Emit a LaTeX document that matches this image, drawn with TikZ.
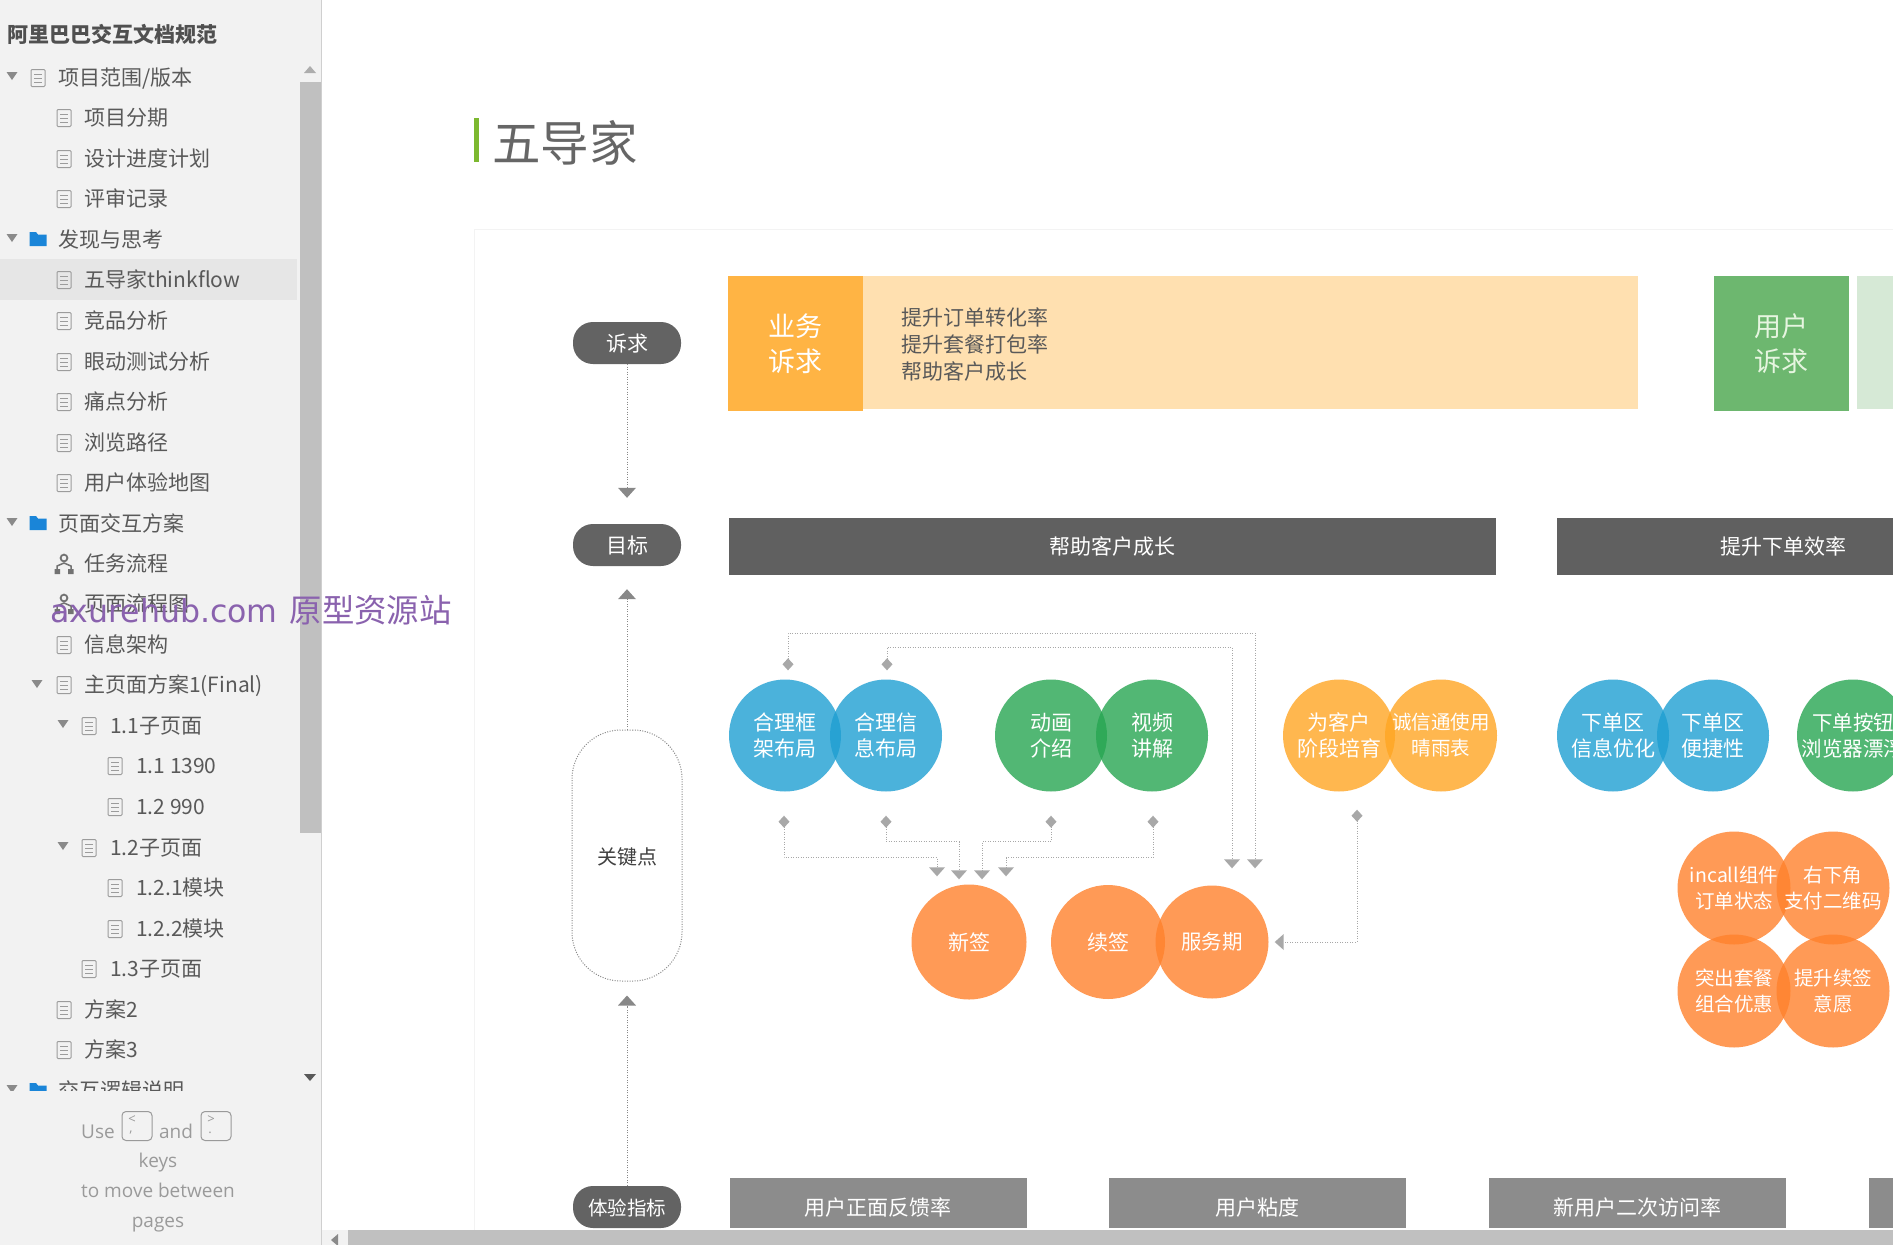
\documentclass[tikz,border=0pt]{standalone}
\usepackage{fontspec}
\setmainfont{Noto Sans CJK SC}
\newfontfamily\latinui{Open Sans}
\newfontfamily\wmfont{DejaVu Sans}
\usetikzlibrary{arrows.meta,calc}
\definecolor{sidebg}{HTML}{F2F2F2}
\definecolor{sideline}{HTML}{CFCFCF}
\definecolor{thumb}{HTML}{C0C0C0}
\definecolor{rowhl}{HTML}{E6E6E6}
\definecolor{treetext}{HTML}{595959}
\definecolor{iconline}{HTML}{9C9C9C}
\definecolor{folderblue}{HTML}{1A85D8}
\definecolor{treetri}{HTML}{8A8A8A}
\definecolor{helptext}{HTML}{9A9A9A}
\definecolor{wmpurple}{HTML}{8A62AE}
\definecolor{titlegreen}{HTML}{7CB82F}
\definecolor{titlegray}{HTML}{666666}
\definecolor{panelline}{HTML}{F3F3F3}
\definecolor{pillgray}{HTML}{636363}
\definecolor{bargray}{HTML}{606060}
\definecolor{midgray}{HTML}{8C8C8C}
\definecolor{biz}{HTML}{FFB444}
\definecolor{bizlight}{HTML}{FFE0B0}
\definecolor{usr}{HTML}{6DB76F}
\definecolor{usrlight}{HTML}{D6E9D6}
\definecolor{usrtext}{HTML}{E6F5E0}
\definecolor{linkgray}{HTML}{A8A8A8}
\definecolor{arrowgray}{HTML}{888888}
\definecolor{cblue}{HTML}{1F9FD2}
\definecolor{cgreen}{HTML}{27A652}
\definecolor{cyellow}{HTML}{FFA623}
\definecolor{corange}{HTML}{FF812C}
\tikzset{
  treeitem/.style={anchor=west,inner sep=0pt,text=treetext,font=\fontsize{21}{21}\selectfont,text height=20pt,text depth=3pt},
  doc/.pic={
    \draw[iconline,line width=1pt,rounded corners=1pt] (-7,-7.5) rectangle (7,9.5);
    \draw[iconline,line width=1pt] (-4,-3) -- (4,-3) (-4,1) -- (4,1) (-4,5) -- (4,5);
  },
  folder/.pic={
    \fill[folderblue] (-8.5,-7) -- (-2,-7) -- (0,-4.5) -- (8.5,-4.5) -- (8.5,7) -- (-8.5,7) -- cycle;
  },
  flowicon/.pic={
    \draw[treetext!85,line width=1.8pt] (0,-5) circle (3.4);
    \draw[treetext!85,line width=1.5pt] (-7,6) -- (-7,3) -- (0,0) -- (7,3) -- (7,6);
    \fill[treetext!85] (-9.5,6) rectangle (-4,11) (4,6) rectangle (9.5,11);
  },
  opentri/.pic={\fill[treetri] (-5.5,-4) -- (5.5,-4) -- (0,4) -- cycle;},
  helptxt/.style={inner sep=0pt,text=helptext,font=\latinui\fontsize{19}{19}\selectfont,text height=14pt,text depth=4pt},
  keycap/.style={draw=helptext,line width=1pt,rounded corners=4pt,minimum width=30pt,minimum height=29pt,inner sep=0pt},
  keyglyph/.style={inner sep=0pt,text=helptext,font=\latinui\fontsize{13}{13}\selectfont},
  pill/.style={fill=pillgray,rounded corners=20pt,minimum width=108pt,minimum height=42pt,inner sep=0pt,text=white,font=\fontsize{21}{21}\selectfont,text height=18pt,text depth=2pt},
  keypill/.style={draw=arrowgray,line width=1pt,dash pattern=on 1pt off 1.5pt,rounded corners=49pt,minimum width=110pt,minimum height=251pt,inner sep=0pt,text=black!75,font=\fontsize{20}{20}\selectfont,text height=19pt,text depth=1pt},
  rowbar/.style={fill=bargray,inner sep=0pt,text=white,font=\fontsize{21}{21}\selectfont},
  kpibar/.style={fill=midgray,inner sep=0pt,minimum width=297pt,minimum height=50pt,text=white,font=\fontsize{21}{21}\selectfont,text height=26pt,text depth=2pt},
  headbox/.style={inner sep=0pt,minimum width=135pt,minimum height=135pt,align=center,font=\fontsize{27}{35}\selectfont},
  bubble/.style={circle,inner sep=0pt,minimum size=112pt,fill opacity=.8,text opacity=1,text=white,align=center,font=\fontsize{21}{26}\selectfont},
  bubblesmall/.style={bubble,font=\fontsize{19.5}{25.5}\selectfont},
  blueb/.style={bubble,fill=cblue},
  greenb/.style={bubble,fill=cgreen},
  yellowb/.style={bubble,fill=cyellow},
  orangeb/.style={bubble,fill=corange},
  quadb/.style={bubblesmall,fill=corange,minimum size=113pt},
  link/.style={draw=linkgray,line width=1pt,dash pattern=on 1pt off 1.5pt},
  axisarrow/.style={draw=arrowgray,line width=1pt,dash pattern=on 1pt off 1.5pt,-{Triangle[width=18pt,length=10pt,fill=arrowgray,line width=0pt]}},
  dd/.style={link,{Diamond[width=11pt,length=12pt,fill=linkgray,line width=0pt]}-{Triangle[width=16pt,length=9pt,fill=linkgray,line width=0pt]}},
}
\begin{document}
\begin{tikzpicture}[x=1pt,y=-1pt]
\useasboundingbox (0,0) rectangle (1893,1245);
\clip (0,0) rectangle (1893,1245);
\fill[white] (0,0) rectangle (1893,1245);
% ---- side bar
\fill[sidebg] (0,0) rectangle (321,1245);
\draw[sideline,line width=1pt] (321,0) -- (321,1245);
\fill[thumb] (300,82) rectangle (321,833);
\fill[treetri!70] (304,73) -- (316,73) -- (310,66) -- cycle;
\fill[treetext] (304,1074) -- (316,1074) -- (310,1081) -- cycle;
\fill[rowhl] (0,259) rectangle (297,300);
\node[anchor=west,inner sep=0pt,text=treetext!90!black,font=\bfseries\fontsize{21}{21}\selectfont] (sidetitle) at (7,34) {阿里巴巴交互文档规范};
\begin{scope}
\clip (0,40) rectangle (298,1090);
\pic at (12,76) {opentri}; \pic at (38,77) {doc};
\node[treeitem] (t01) at (58,77) {项目范围/版本};
\pic at (64,117) {doc}; \node[treeitem] (t02) at (84,117) {项目分期};
\pic at (64,158) {doc}; \node[treeitem] (t03) at (84,158) {设计进度计划};
\pic at (64,198) {doc}; \node[treeitem] (t04) at (84,198) {评审记录};
\pic at (12,238) {opentri}; \pic at (38,239) {folder};
\node[treeitem] (t05) at (58,239) {发现与思考};
\pic at (64,279) {doc}; \node[treeitem] (t06) at (84,279) {五导家thinkflow};
\pic at (64,320) {doc}; \node[treeitem] (t07) at (84,320) {竞品分析};
\pic at (64,361) {doc}; \node[treeitem] (t08) at (84,361) {眼动测试分析};
\pic at (64,401) {doc}; \node[treeitem] (t09) at (84,401) {痛点分析};
\pic at (64,442) {doc}; \node[treeitem] (t10) at (84,442) {浏览路径};
\pic at (64,482) {doc}; \node[treeitem] (t11) at (84,482) {用户体验地图};
\pic at (12,522) {opentri}; \pic at (38,523) {folder};
\node[treeitem] (t12) at (58,523) {页面交互方案};
\pic at (64,563) {flowicon}; \node[treeitem] (t13) at (84,563) {任务流程};
\pic at (64,603) {flowicon}; \node[treeitem] (t14) at (84,603) {页面流程图};
\pic at (64,644) {doc}; \node[treeitem] (t15) at (84,644) {信息架构};
\pic at (37,684) {opentri}; \pic at (64,684) {doc};
\node[treeitem] (t16) at (84,684) {主页面方案1(Final)};
\pic at (63,724) {opentri}; \pic at (89,725) {doc};
\node[treeitem] (t17) at (110,725) {1.1子页面};
\pic at (115,765) {doc}; \node[treeitem] (t18) at (136,765) {1.1 1390};
\pic at (115,806) {doc}; \node[treeitem] (t19) at (136,806) {1.2 990};
\pic at (63,846) {opentri}; \pic at (89,847) {doc};
\node[treeitem] (t20) at (110,847) {1.2子页面};
\pic at (115,887) {doc}; \node[treeitem] (t21) at (136,887) {1.2.1模块};
\pic at (115,928) {doc}; \node[treeitem] (t22) at (136,928) {1.2.2模块};
\pic at (89,968) {doc}; \node[treeitem] (t23) at (110,968) {1.3子页面};
\pic at (64,1009) {doc}; \node[treeitem] (t24) at (84,1009) {方案2};
\pic at (64,1049) {doc}; \node[treeitem] (t25) at (84,1049) {方案3};
\pic at (12,1089) {opentri}; \pic at (38,1090) {folder};
\node[treeitem] (t26) at (58,1090) {交互逻辑说明};
\end{scope}
% help
\node[helptxt] (huse) at (98,1133) {Use};
\node[keycap] (k1) at (137,1126) {};
\node[keyglyph] (k1a) at (132,1120) {<};
\node[keyglyph] (k1b) at (131,1133) {,};
\node[helptxt] (hand) at (176,1133) {and};
\node[keycap] (k2) at (216,1126) {};
\node[keyglyph] (k2a) at (211,1120) {>};
\node[keyglyph] (k2b) at (210,1133) {.};
\node[helptxt] (hkeys) at (158,1162) {keys};
\node[helptxt] (hmove) at (158,1192) {to move between};
\node[helptxt] (hpages) at (158,1222) {pages};
% ---- main
\fill[titlegreen] (474,118) rectangle (479,162);
\node[anchor=west,inner sep=0pt,text=titlegray,font=\fontsize{48.5}{48.5}\selectfont] (title) at (492,143) {五导家};
\draw[panelline,line width=1pt] (1893,229) -- (474,229) -- (474,1230);
% row 1
\node[pill] (p1) at (627,343) {诉求};
\fill[bizlight] (863,276) rectangle (1638,409);
\node[headbox,fill=biz,text=white] (bizhead) at (795.5,343.5) {业务\\诉求};
\node[anchor=west,inner sep=0pt,align=left,text=black!65,font=\fontsize{21}{27}\selectfont] (biztext) at (901,345) {提升订单转化率\\提升套餐打包率\\帮助客户成长};
\node[headbox,fill=usr,text=usrtext] (usrhead) at (1781.5,343.5) {用户\\诉求};
\fill[usrlight] (1857,276) rectangle (1893,409);
% row 2
\node[pill] (p2) at (627,545) {目标};
\node[rowbar,minimum width=767pt,minimum height=57pt] (goal1) at (1112.5,546) {帮助客户成长};
\node[rowbar,minimum width=452pt,minimum height=57pt] (goal2) at (1783,546) {提升下单效率};
% key pill
\node[keypill] (p3) at (627,855.5) {关键点};
% kpi
\node[kpibar] (kpi1) at (878,1203) {用户正面反馈率};
\node[kpibar] (kpi2) at (1257.5,1203) {用户粘度};
\node[kpibar] (kpi3) at (1637,1203) {新用户二次访问率};
\node[kpibar] (kpi4) at (2017,1203) {};
\node[pill,font=\fontsize{19.5}{20}\selectfont] (p4) at (627,1207) {体验指标};
% bubbles
\node[blueb] (a1) at (785,735.5) {合理框\\架布局};
\node[blueb] (a2) at (886,735.5) {合理信\\息布局};
\node[greenb] (b1) at (1051,735.5) {动画\\介绍};
\node[greenb] (b2) at (1152,735.5) {视频\\讲解};
\node[yellowb] (c1) at (1339,735.5) {为客户\\阶段培育};
\node[yellowb,font=\fontsize{19.5}{26}\selectfont] (c2) at (1441,735.5) {诚信通使用\\晴雨表};
\node[orangeb,minimum size=115pt] (xq) at (969,942) {新签};
\node[orangeb,minimum size=114pt] (xu) at (1108,942) {续签};
\node[orangeb,minimum size=113pt,font=\fontsize{20.5}{26}\selectfont] (fw) at (1212,942) {服务期};
\node[blueb] (d1) at (1613,735.5) {下单区\\信息优化};
\node[blueb] (d2) at (1713,735.5) {下单区\\便捷性};
\node[greenb,font=\fontsize{20.5}{26}\selectfont] (e1) at (1853,735.5) {下单按钮\\浏览器漂浮};
\node[quadb] (q1) at (1734,888) {incall组件\\订单状态};
\node[quadb] (q2) at (1833,888) {右下角\\支付二维码};
\node[quadb] (q3) at (1734,991) {突出套餐\\组合优惠};
\node[quadb] (q4) at (1833,991) {提升续签\\意愿};
% axis arrows
\draw[axisarrow,shorten >=26pt] (p1.south) -- (p2.north);
\draw[axisarrow,shorten >=23pt] (p3.north) -- (p2.south);
\draw[axisarrow,shorten >=14pt] (p4.north) -- (p3.south);
% links
\draw[dd,shorten <=9pt,shorten >=17pt] ([xshift=3pt]a1.north) -- ++(0,-46) -| ([xshift=43pt]fw.north);
\draw[dd,shorten <=9pt,shorten >=17pt] ([xshift=1pt]a2.north) -- ++(0,-32) -| ([xshift=20pt]fw.north);
\draw[dd,shorten <=24pt,shorten >=8pt] ([xshift=-1pt]a1.south) -- ++(0,66) -| ([xshift=-32pt]xq.north);
\draw[dd,shorten <=24pt,shorten >=5pt] (a2.south) -- ++(0,50) -| ([xshift=-10pt]xq.north);
\draw[dd,shorten <=24pt,shorten >=5pt] (b1.south) -- ++(0,50) -| ([xshift=13pt]xq.north);
\draw[dd,shorten <=24pt,shorten >=8pt] ([xshift=1pt]b2.south) -- ++(0,66) -| ([xshift=37pt]xq.north);
\draw[dd,shorten <=18pt,shorten >=6pt] ([xshift=18pt]c1.south) |- (fw.east);
% bottom scrollbar
\fill[sidebg] (322,1230) rectangle (1893,1245);
\fill[thumb] (348,1230) rectangle (1893,1245);
\fill[treetri] (338,1234) -- (338,1246) -- (331,1240) -- cycle;
% watermark
\node[anchor=west,inner sep=0pt,text=wmpurple,font=\wmfont\fontsize{31.6}{32}\selectfont] (wm) at (50,610) {axurehub.com\hspace{12pt}{\rmfamily\fontsize{32.4}{32.4}\selectfont 原型资源站}};
\end{tikzpicture}
\end{document}
